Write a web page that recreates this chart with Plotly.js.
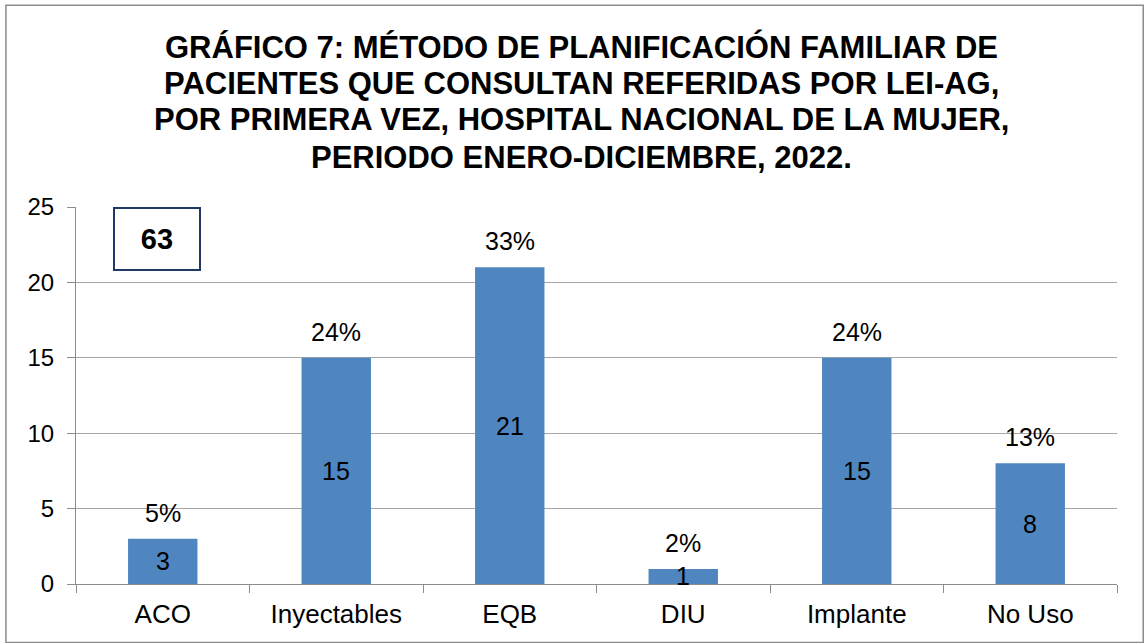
<!DOCTYPE html>
<html><head><meta charset="utf-8">
<script src="https://cdn.plot.ly/plotly-3.0.1.min.js"></script>
<style>html,body{margin:0;padding:0;background:#fff}#c{width:1147px;height:643px}</style>
</head><body><div id="c"></div>
<script>
const categories = ["ACO", "Inyectables", "EQB", "DIU", "Implante", "No Uso"];
const values = [3, 15, 21, 1, 15, 8];
const percentLabels = ["5%", "24%", "33%", "2%", "24%", "13%"];
const totalLabel = "63";
const yTicks = [0, 5, 10, 15, 20, 25];
const titleLines = [
  "GRÁFICO 7: MÉTODO DE PLANIFICACIÓN FAMILIAR DE",
  "PACIENTES QUE CONSULTAN REFERIDAS POR LEI-AG,",
  "POR PRIMERA VEZ, HOSPITAL NACIONAL DE LA MUJER,",
  "PERIODO ENERO-DICIEMBRE, 2022."
];

const font = "Liberation Sans, Arial, sans-serif";
const annotations = [];
categories.forEach((c, i) => {
  annotations.push({x: c, y: values[i], text: percentLabels[i], showarrow: false, yanchor: "bottom", yshift: 10, font: {family: font, size: 25, color: "#000"}});
  annotations.push({x: c, y: values[i] / 2, text: String(values[i]), showarrow: false, yanchor: "middle", font: {family: font, size: 25, color: "#000"}});
});
annotations.push({xref: "paper", yref: "paper", x: 0.078, y: 0.915, text: "<b>" + totalLabel + "</b>", showarrow: false,
  font: {family: font, size: 29, color: "#000"}, bordercolor: "#1f3864", borderwidth: 2, borderpad: 0,
  width: 84, height: 60, bgcolor: "#fff", xanchor: "center", yanchor: "middle"});
const titleY = [1.4244, 1.3289, 1.2308, 1.1326];
titleLines.forEach((t, i) => {
  annotations.push({xref: "paper", yref: "paper", x: 0.486, y: titleY[i], xanchor: "center", yanchor: "middle",
    text: "<b>" + t + "</b>", showarrow: false, font: {family: font, size: 31, color: "#000"}});
});

const data = [{
  type: "bar", x: categories, y: values, width: 0.4,
  marker: {color: "#4f86c0", line: {width: 0}},
  hoverinfo: "none"
}];
const layout = {
  width: 1147, height: 643,
  margin: {l: 76, r: 30, t: 207, b: 59},
  paper_bgcolor: "#fff", plot_bgcolor: "#fff",
  xaxis: {showline: true, linecolor: "#8c8c8c", linewidth: 1, ticks: "outside", tickson: "boundaries", ticklen: 8, tickcolor: "#8c8c8c",
    tickfont: {family: font, size: 26, color: "#000"}, ticklabelstandoff: 7, showgrid: false, fixedrange: true},
  yaxis: {range: [0, 25], tickvals: yTicks, showline: true, linecolor: "#8c8c8c", linewidth: 1, ticks: "outside", ticklen: 8, tickcolor: "#8c8c8c",
    showgrid: true, gridcolor: "#a6a6a6", gridwidth: 1, zeroline: false,
    tickfont: {family: font, size: 24, color: "#000"}, ticklabelstandoff: 8, fixedrange: true},
  shapes: [{type: "rect", xref: "paper", yref: "paper", x0: -0.0673, x1: 1.0252, y0: -0.155, y1: 1.535, line: {color: "#8c8c8c", width: 1.5}}],
  annotations: annotations,
  showlegend: false
};
Plotly.newPlot("c", data, layout, {displayModeBar: false, staticPlot: true});
</script></body></html>
